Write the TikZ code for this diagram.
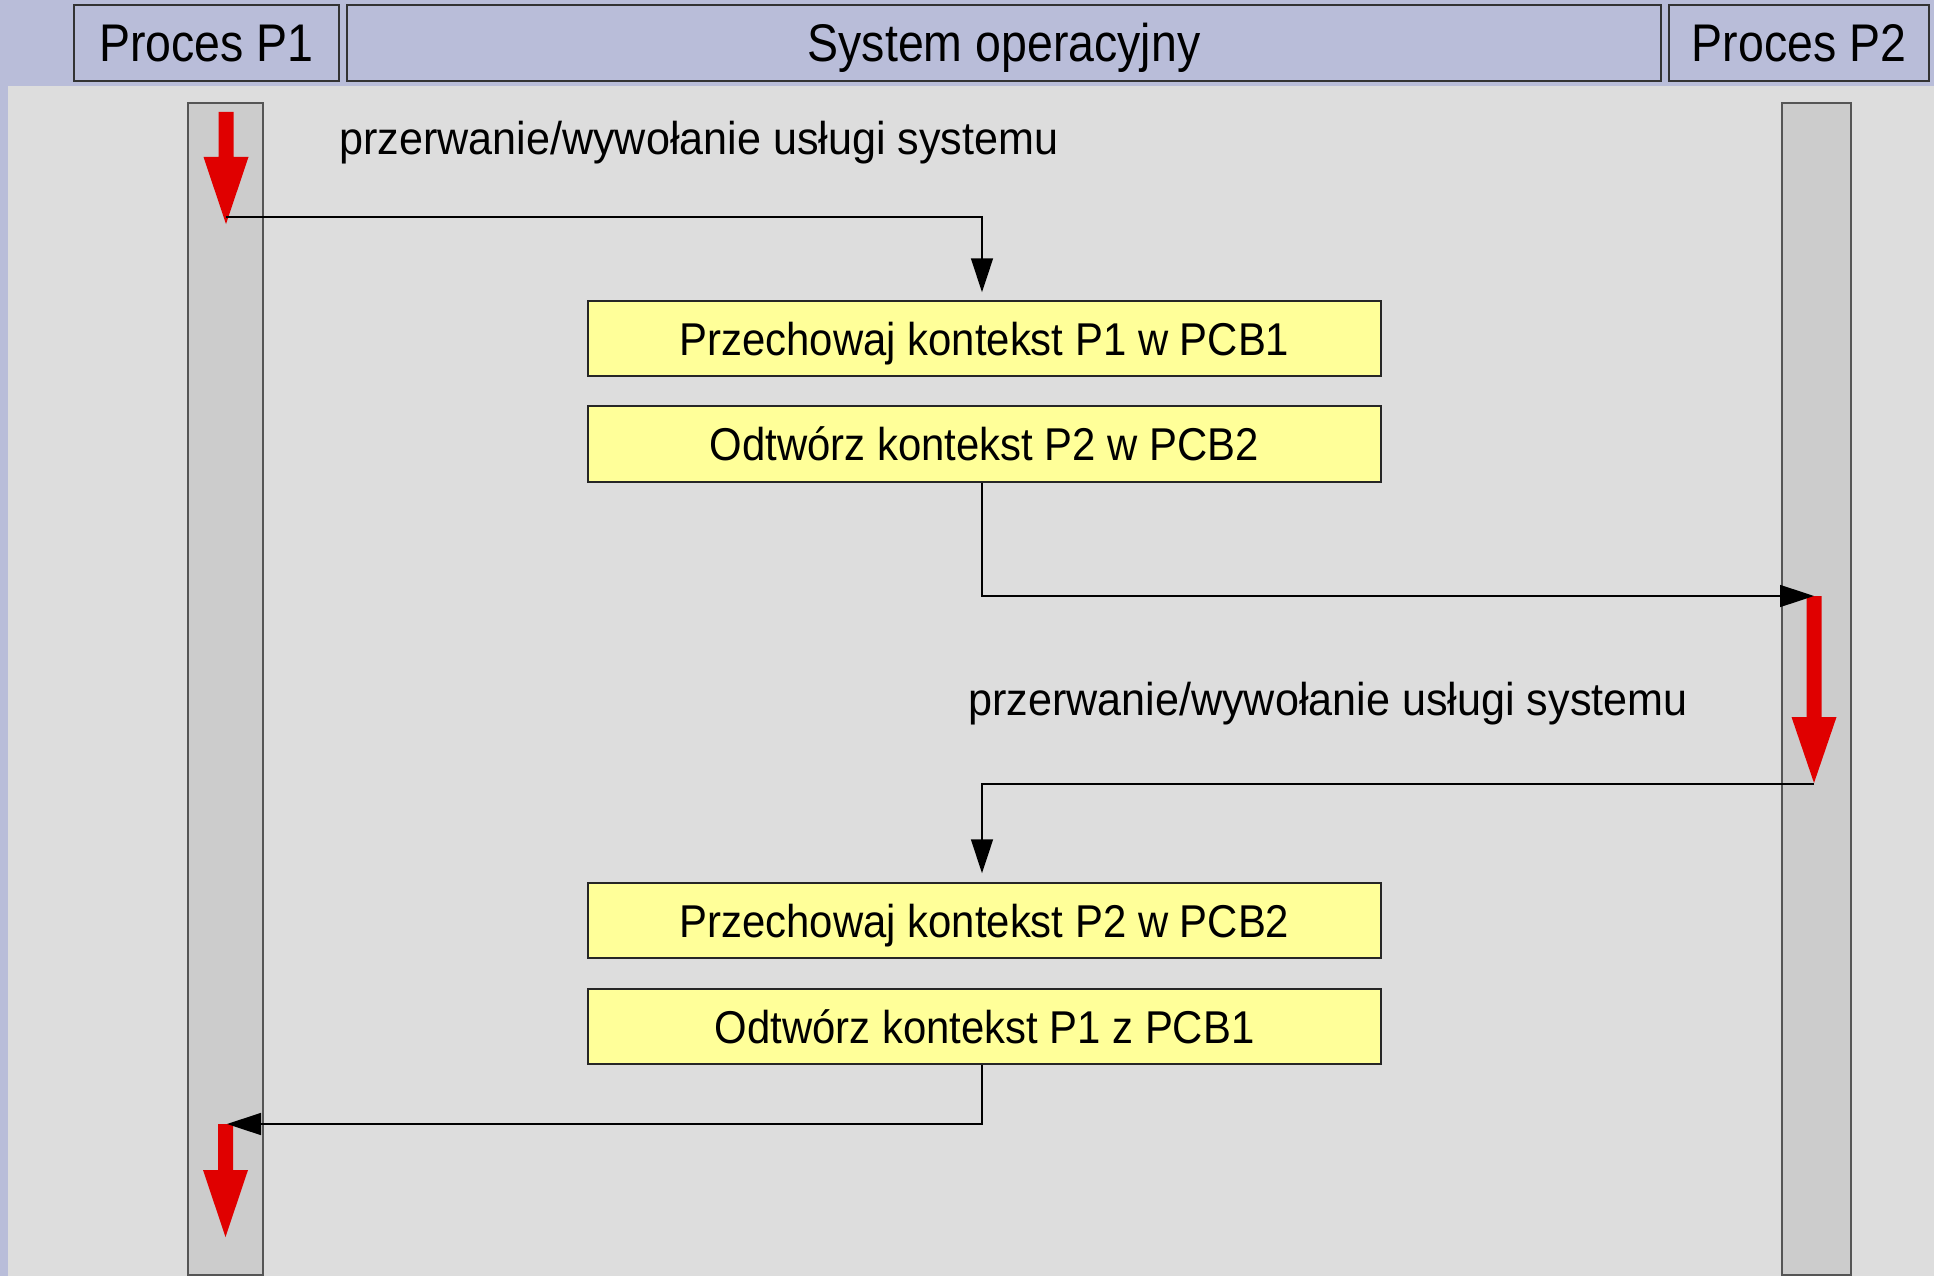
\documentclass[tikz,border=0pt]{standalone}
\usepackage{fontspec}
\setmainfont{Liberation Sans}
\newfontfamily\headfont[FakeStretch=0.877]{Liberation Sans}
\newfontfamily\boxfont[FakeStretch=0.91]{Liberation Sans}
\newfontfamily\notefont[FakeStretch=0.938]{Liberation Sans}
\usetikzlibrary{arrows.meta}

\definecolor{lavender}{RGB}{185,189,217}
\definecolor{canvas}{RGB}{221,221,221}
\definecolor{barfill}{RGB}{204,204,204}
\definecolor{barline}{RGB}{85,85,85}
\definecolor{notefill}{RGB}{255,255,153}
\definecolor{flowred}{RGB}{224,0,0}

% thick red "process running" arrow: centre x, shaft top, head start, tip
\newcommand\runarrow[4]{%
  \fill[flowred] (#1-7.5,#2) -- (#1+7.5,#2) -- (#1+7.5,#3) -- (#1+22.5,#3)
    -- (#1,#4) -- (#1-22.5,#3) -- (#1-7.5,#3) -- cycle;}

\begin{document}
\begin{tikzpicture}[x=1pt,y=-1pt,
  lane/.style={draw=black!80, line width=1.5pt, fill=lavender, inner sep=0pt,
    minimum height=76pt, text height=38pt, text depth=0pt,
    font=\headfont\fontsize{53}{60}\selectfont},
  lifebar/.style={draw=barline, line width=1.5pt, fill=barfill, inner sep=0pt},
  action/.style={draw=black!85, line width=1.5pt, fill=notefill, inner sep=0pt,
    minimum width=793pt, minimum height=75pt, text height=33pt, text depth=0pt,
    font=\boxfont\fontsize{46}{52}\selectfont},
  note/.style={anchor=base west, inner sep=0pt,
    font=\notefont\fontsize{46}{52}\selectfont},
  flow/.style={draw=black, line width=1.5pt, -{Triangle[length=34pt,width=22pt]}},
]
\useasboundingbox (0,0) rectangle (1934,1276);

% backgrounds
\fill[lavender] (0,0) rectangle (1934,1276);
\fill[canvas] (8,86) rectangle (1934,1276);

% swimlane headers
\node[lane, minimum width=265pt] (h1) at (206.5,43) {Proces P1};
\node[lane, minimum width=1314pt] (hs) at (1004,43) {System operacyjny};
\node[lane, minimum width=260pt] (h2) at (1799,43) {Proces P2};

% lifelines of both processes
\node[lifebar, minimum width=75pt, minimum height=1172pt] (l1) at (225.5,689) {};
\node[lifebar, minimum width=69pt, minimum height=1172pt] (l2) at (1816.5,689) {};

% execution arrows
\runarrow{226}{112}{157}{224}
\runarrow{1814}{596}{717}{783}
\runarrow{225.5}{1124}{1170}{1237}

\coordinate (out1) at (226,217);
\coordinate (in2) at (1814,596);
\coordinate (out2) at (1814,784);
\coordinate (in1) at (227,1124);

% kernel actions
\node[action] (b1) at (984.5,338.5) {Przechowaj kontekst P1 w PCB1};
\node[action, minimum height=76pt] (b2) at (984.5,444) {Odtwórz kontekst P2 w PCB2};
\node[action] (b3) at (984.5,920.5) {Przechowaj kontekst P2 w PCB2};
\node[action] (b4) at (984.5,1026.5) {Odtwórz kontekst P1 z PCB1};

% labels
\node[note] (n1) at (339,155) {przerwanie/wywołanie usługi systemu};
\node[note] (n2) at (968,715) {przerwanie/wywołanie usługi systemu};

% control transfers
\draw[flow, shorten >=8pt] (out1) -| ([xshift=-2.5pt]b1.north);
\draw[flow] ([xshift=-2.5pt]b2.south) |- (in2);
\draw[flow, shorten >=9pt] (out2) -| ([xshift=-2.5pt]b3.north);
\draw[flow] ([xshift=-2.5pt]b4.south) |- (in1);
\end{tikzpicture}
\end{document}
